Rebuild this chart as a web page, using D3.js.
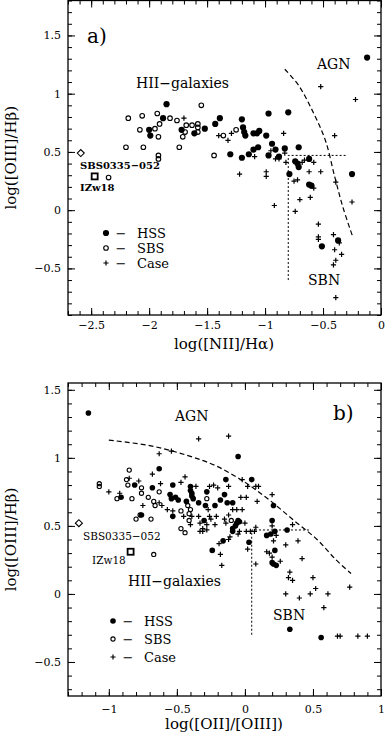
<!DOCTYPE html>
<html>
<head>
<meta charset="utf-8">
<script src="https://cdnjs.cloudflare.com/ajax/libs/d3/7.8.5/d3.min.js"></script>
<style>
body { margin: 0; background: #fff; }
svg { display: block; font-family: "DejaVu Serif", "Liberation Serif", serif; }
</style>
</head>
<body>
<script>
// ---- panel a) log([NII]/Ha) vs log([OIII]/Hb) ----
var aHSS = [[-0.12,1.31],[-1.85,0.91],[-1.88,0.79],[-2.0,0.69],[-1.99,0.64],[-1.72,0.69],[-1.61,0.66],
  [-1.52,0.70],[-1.43,0.74],[-1.39,0.79],[-1.20,0.78],[-1.19,0.71],[-1.18,0.67],[-1.17,0.64],[-1.10,0.66],
  [-1.07,0.66],[-1.05,0.68],[-0.99,0.64],[-0.97,0.83],[-0.80,0.84],[-0.94,0.57],[-0.91,0.52],[-1.10,0.52],
  [-1.06,0.54],[-1.14,0.48],[-1.20,0.45],[-1.30,0.48],[-0.97,0.47],[-0.88,0.46],[-0.83,0.53],[-0.71,0.54],
  [-0.62,0.44],[-0.74,0.42],[-0.72,0.40],[-0.71,0.37],[-0.79,0.31],[-0.62,0.22],[-0.60,0.21],[-0.25,0.31],
  [-0.37,-0.26],[-0.51,-0.31]];
var aSBS = [[-2.18,0.79],[-2.06,0.81],[-1.93,0.83],[-1.82,0.79],[-1.76,0.77],[-1.55,0.90],[-2.08,0.69],
  [-1.95,0.70],[-1.91,0.74],[-1.92,0.63],[-2.20,0.54],[-2.05,0.54],[-1.74,0.54],[-1.92,0.47],[-1.92,0.44],
  [-2.35,0.28],[-1.44,0.47],[-1.68,0.73],[-1.63,0.73],[-1.58,0.74],[-1.58,0.71],[-1.69,0.67],[-1.71,0.63],
  [-1.58,0.67],[-1.36,0.64],[-1.25,0.69]];
var aCase = [[-1.70,0.79],[-1.40,0.64],[-1.32,0.60],[-1.29,0.66],[-0.84,0.66],[-0.52,1.06],[-0.22,0.95],
  [-0.40,0.64],[-1.09,0.46],[-0.91,0.44],[-0.88,0.44],[-0.82,0.41],[-1.22,0.31],[-0.99,0.33],[-0.99,0.29],
  [-0.68,0.41],[-0.62,0.33],[-0.58,0.41],[-0.52,0.33],[-0.75,0.25],[-0.72,0.26],[-0.58,0.19],[-0.39,0.24],
  [-0.61,0.11],[-0.92,0.04],[-0.74,-0.01],[-0.70,0.09],[-0.25,0.07],[-0.54,-0.12],[-0.54,-0.23],[-0.54,-0.25],
  [-0.41,-0.21],[-0.36,-0.28],[-0.40,-0.34],[-0.34,-0.38],[-0.39,-0.43],[-0.41,-0.47],[-0.39,-0.75],
  [-0.95,0.51],[-0.83,0.49],[-0.66,0.43]];
var aCurve = [[-0.83,1.21],[-0.71,1.07],[-0.58,0.83],[-0.48,0.60],[-0.40,0.29],[-0.33,0.03],[-0.24,-0.24]];
var aDivide = [[-0.8,-0.6],[-0.8,0.47],[-0.3,0.47]];
var aSBS0335 = [-2.59, 0.49];
var aIZw18 = [-2.47, 0.29];
var aXTicks = [-2.5, -2, -1.5, -1, -0.5, 0];
var aYTicks = [-0.5, 0, 0.5, 1, 1.5];

// ---- panel b) log([OII]/[OIII]) vs log([OIII]/Hb) ----
var bHSS = [[-1.15,1.33],[-0.05,1.01],[-0.63,0.92],[0.05,0.84],[-0.14,0.84],[-0.81,0.80],[-0.53,0.80],
  [-0.91,0.71],[-0.68,0.78],[-0.55,0.73],[-0.54,0.70],[-0.40,0.76],[-0.39,0.72],[-0.38,0.70],[-0.49,0.69],
  [-0.43,0.68],[-0.34,0.67],[-0.28,0.75],[-0.29,0.65],[-0.22,0.65],[-0.18,0.69],[-0.15,0.73],[-0.13,0.67],
  [-0.09,0.67],[-0.53,0.57],[-0.76,0.58],[-0.30,0.54],[-0.05,0.54],[-0.04,0.53],[-0.06,0.52],[-0.07,0.50],
  [-0.09,0.48],[-0.09,0.46],[-0.16,0.39],[-0.24,0.32],[0.03,0.38],[0.20,0.54],[0.21,0.65],[0.16,0.43],
  [0.19,0.44],[0.22,0.46],[0.31,0.47],[0.22,0.32],[0.20,0.23],[0.21,0.22],[0.23,0.21],[0.33,-0.26],
  [0.56,-0.32],[-0.40,0.79],[-0.39,0.74],[-0.51,0.71]];
var bSBS = [[-0.85,0.91],[-1.07,0.81],[-1.07,0.79],[-0.87,0.84],[-0.86,0.80],[-0.76,0.78],[-0.76,0.74],
  [-0.94,0.70],[-0.71,0.71],[-0.67,0.68],[-0.66,0.65],[-0.63,0.75],[-0.47,0.61],[-0.42,0.65],[-0.40,0.62],
  [-0.41,0.54],[-0.80,0.55],[-0.77,0.58],[-0.69,0.55],[-0.47,0.48],[-0.44,0.45],[-0.67,0.29],[-0.28,0.70],
  [-0.10,0.54],[-0.83,0.70],[-0.41,0.59]];
var bCase = [[-0.34,1.14],[-0.12,1.16],[-0.63,1.03],[-0.54,1.05],[-0.68,0.88],[-0.44,0.86],[-1.0,0.75],
  [-0.92,0.74],[-0.85,0.85],[-0.78,0.83],[-0.62,0.81],[-0.47,0.82],[-0.36,0.79],[-0.26,0.79],[-0.23,0.80],
  [-0.20,0.78],[-0.12,0.79],[-0.02,0.84],[0.02,0.79],[0.08,0.79],[0.10,0.79],[0.20,0.73],[0.09,0.68],
  [-0.03,0.71],[0.01,0.71],[-0.75,0.65],[-0.63,0.67],[-0.61,0.65],[-0.57,0.62],[-0.53,0.61],[-0.45,0.57],
  [-0.39,0.57],[-0.34,0.57],[-0.27,0.62],[-0.26,0.57],[-0.21,0.57],[-0.12,0.58],[-0.09,0.62],[-0.06,0.62],
  [-0.02,0.62],[-0.40,0.51],[-0.33,0.52],[-0.28,0.51],[-0.22,0.51],[-0.14,0.52],[-0.31,0.48],[-0.28,0.47],
  [0.0,0.52],[0.08,0.49],[0.01,0.46],[0.04,0.46],[0.07,0.46],[-0.05,0.44],[-0.04,0.46],[-0.11,0.42],
  [-0.12,0.40],[-0.19,0.37],[-0.18,0.29],[-0.17,0.21],[0.02,0.33],[0.08,0.22],[0.20,0.50],[0.23,0.43],
  [0.21,0.39],[0.30,0.36],[0.35,0.51],[0.39,0.39],[0.16,0.31],[0.18,0.30],[0.20,0.27],[0.42,0.26],
  [0.26,0.24],[0.33,0.16],[0.32,0.12],[0.35,0.10],[0.30,0.0],[0.40,-0.03],[0.48,0.0],[0.50,0.12],
  [0.52,0.04],[0.61,0.0],[0.58,-0.10],[0.77,0.05],[0.68,-0.31],[0.70,-0.31],[0.83,-0.31],[0.90,-0.31],
  [-0.33,0.46],[-0.31,0.46],[-0.15,0.55],[-0.25,0.55]];
var bCurve = [[-1.0,1.13],[-0.7,1.09],[-0.43,1.02],[-0.21,0.94],[0.0,0.82],[0.18,0.69],[0.36,0.54],
  [0.53,0.40],[0.67,0.25],[0.78,0.15]];
var bDivide = [[0.05,-0.30],[0.05,0.47],[0.47,0.47]];
var bSBS0335 = [-1.22, 0.52];
var bIZw18 = [-0.84, 0.31];
var bXTicks = [-1, -0.5, 0, 0.5, 1];
var bYTicks = [-0.5, 0, 0.5, 1, 1.5];

var width = 385;
var height = 736;

var svg = d3.select('body')
  .append('svg')
  .attr('width', width)
  .attr('height', height);

var fmt = d3.format('~g');

function panel(c) {
  var x = d3.scaleLinear().domain(c.xDomain).range([68, 381]);
  var y = d3.scaleLinear().domain(c.yDomain).range([c.bottom, c.top]);
  var g = svg.append('g');

  var minorX = d3.range(Math.ceil(c.xDomain[0] * 10), Math.floor(c.xDomain[1] * 10) + 1).map(function(d) { return d / 10; });
  var minorY = d3.range(Math.ceil(c.yDomain[0] * 10), Math.floor(c.yDomain[1] * 10) + 1).map(function(d) { return d / 10; });

  // inward ticks on all four sides, minor every 0.1, major on labels
  function ticks(axis, scale, vals, size, tr, labels) {
    var a = axis(scale).tickValues(vals).tickSize(-size);
    if (labels) a.tickFormat(fmt).tickPadding(labels); else a.tickFormat('');
    var ax = g.append('g').attr('transform', tr).call(a);
    ax.select('.domain').remove();
    ax.selectAll('line').attr('stroke', '#000').attr('stroke-width', 1);
    ax.selectAll('text').attr('fill', '#000').style('font-size', '11px').style('font-family', '"DejaVu Serif", serif');
    return ax;
  }
  ticks(d3.axisBottom, x, minorX, 4, 'translate(0,' + c.bottom + ')');
  ticks(d3.axisBottom, x, c.xTicks, 7, 'translate(0,' + c.bottom + ')', c.xPad);
  ticks(d3.axisTop, x, minorX, 4, 'translate(0,' + c.top + ')');
  ticks(d3.axisTop, x, c.xTicks, 7, 'translate(0,' + c.top + ')');
  ticks(d3.axisLeft, y, minorY, 4, 'translate(68,0)');
  ticks(d3.axisLeft, y, c.yTicks, 7, 'translate(68,0)', 7);
  ticks(d3.axisRight, y, minorY, 4, 'translate(381,0)');
  ticks(d3.axisRight, y, c.yTicks, 7, 'translate(381,0)');

  // frame
  g.append('rect')
    .attr('x', 68).attr('y', c.top)
    .attr('width', 313).attr('height', c.bottom - c.top)
    .attr('fill', 'none').attr('stroke', '#000').attr('stroke-width', 1.3);

  // dividing lines
  var line = d3.line().x(function(d) { return x(d[0]); }).y(function(d) { return y(d[1]); });
  g.append('path').attr('d', line.curve(d3.curveCatmullRom)(c.curve))
    .attr('fill', 'none').attr('stroke', '#000').attr('stroke-width', 1.2).attr('stroke-dasharray', '5,3');
  g.append('path').attr('d', line.curve(d3.curveLinear)(c.divide))
    .attr('fill', 'none').attr('stroke', '#000').attr('stroke-width', 1).attr('stroke-dasharray', '2,2');

  // points
  g.selectAll('.case').data(c.cases).enter().append('path')
    .attr('transform', function(d) { return 'translate(' + x(d[0]) + ',' + y(d[1]) + ')'; })
    .attr('d', 'M-2.6,0H2.6M0,-2.6V2.6')
    .attr('stroke', '#000').attr('stroke-width', 1.2);
  g.selectAll('.sbs').data(c.sbs).enter().append('circle')
    .attr('cx', function(d) { return x(d[0]); })
    .attr('cy', function(d) { return y(d[1]); })
    .attr('r', c.rOpen).attr('fill', 'none').attr('stroke', '#000').attr('stroke-width', 1.1);
  g.selectAll('.hss').data(c.hss).enter().append('circle')
    .attr('cx', function(d) { return x(d[0]); })
    .attr('cy', function(d) { return y(d[1]); })
    .attr('r', c.rFill).attr('fill', '#000');

  // SBS0335-052 and IZw18
  g.append('path')
    .attr('transform', 'translate(' + x(c.sbs0335[0]) + ',' + y(c.sbs0335[1]) + ')')
    .attr('d', 'M-3.5,0L0,-3.5L3.5,0L0,3.5Z')
    .attr('fill', 'none').attr('stroke', '#000').attr('stroke-width', 1.1);
  g.append('rect')
    .attr('x', x(c.izw18[0]) - 3).attr('y', y(c.izw18[1]) - 3)
    .attr('width', 6).attr('height', 6)
    .attr('fill', 'none').attr('stroke', '#000').attr('stroke-width', 1.8);

  // labels
  c.texts.forEach(function(t) {
    g.append('text').attr('x', t[1]).attr('y', t[2]).text(t[0])
      .style('font-size', t[3] + 'px').style('font-weight', t[4] || 'normal');
  });

  // legend
  var lx = c.legend[0], ly = c.legend;
  g.append('circle').attr('cx', lx).attr('cy', ly[1]).attr('r', c.rFill).attr('fill', '#000');
  g.append('circle').attr('cx', lx).attr('cy', ly[2]).attr('r', c.rOpen).attr('fill', 'none').attr('stroke', '#000').attr('stroke-width', 1.1);
  g.append('path').attr('transform', 'translate(' + lx + ',' + ly[3] + ')')
    .attr('d', 'M-2.6,0H2.6M0,-2.6V2.6').attr('stroke', '#000').attr('stroke-width', 1.2);
  ['HSS', 'SBS', 'Case'].forEach(function(s, i) {
    g.append('text').attr('x', lx + 15).attr('y', ly[i + 1] + 4.5).attr('text-anchor', 'middle')
      .style('font-size', '13px').text('\u2212');
    g.append('text').attr('x', lx + 31).attr('y', ly[i + 1] + 4.5)
      .style('font-size', '13px').text(s);
  });

  // axis titles
  g.append('text').attr('x', 224).attr('y', c.xTitleY).attr('text-anchor', 'middle')
    .style('font-size', '15px').text(c.xTitle);
  g.append('text').attr('transform', 'translate(16,' + (c.top + c.bottom) / 2 + ') rotate(-90)')
    .attr('text-anchor', 'middle').style('font-size', '15px').text('log([OIII]/H\u03b2)');
}

panel({
  xDomain: [-2.7, 0], yDomain: [-0.9, 1.8], top: 0.5, bottom: 315,
  xTicks: aXTicks, yTicks: aYTicks, xPad: 6,
  hss: aHSS, sbs: aSBS, cases: aCase, curve: aCurve, divide: aDivide,
  sbs0335: aSBS0335, izw18: aIZw18, rFill: 3.1, rOpen: 2.3,
  xTitle: 'log([NII]/H\u03b1)', xTitleY: 349,
  legend: [106, 233, 248, 263],
  texts: [['a)', 87, 43, 20], ['AGN', 317, 69, 14], ['HII\u2212galaxies', 136, 88, 14], ['SBN', 308, 285, 14],
    ['SBS0335\u2212052', 80, 169, 10, 'bold'], ['IZw18', 80, 191, 10, 'bold']]
});

panel({
  xDomain: [-1.3, 1.0], yDomain: [-0.75, 1.55], top: 383, bottom: 696,
  xTicks: bXTicks, yTicks: bYTicks, xPad: 9,
  hss: bHSS, sbs: bSBS, cases: bCase, curve: bCurve, divide: bDivide,
  sbs0335: bSBS0335, izw18: bIZw18, rFill: 2.8, rOpen: 2.1,
  xTitle: 'log([OII]/[OIII])', xTitleY: 729,
  legend: [113, 621, 639, 657],
  texts: [['b)', 333, 420, 20], ['AGN', 175, 421, 14], ['HII\u2212galaxies', 128, 586, 14], ['SBN', 273, 620, 14],
    ['SBS0335\u2212052', 83, 540, 10.5], ['IZw18', 92, 564, 10.5]]
});
</script>
</body>
</html>
